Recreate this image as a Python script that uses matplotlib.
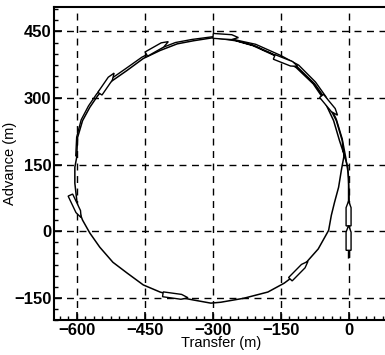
import numpy as np
import matplotlib.pyplot as plt
from matplotlib.patches import Polygon
from matplotlib.ticker import AutoMinorLocator

# turning circle tracks (transfer, advance) in metres
run1_x = [0, 0, 0, 0, 0, -2, -9, -20, -33, -56, -78, -116, -153, -211, -249,
          -298, -342, -378, -416, -453, -489, -527, -553, -571, -587, -598,
          -600, -604, -604, -598, -587, -571, -549, -520, -489, -453, -416,
          -378, -342, -304, -282, -231, -178, -142, -104, -93, -67, -44, -38,
          -31, -22, -16, -10, -14, -27, -52, -75, -112, -150, -208, -250]
run1_y = [-60, -20, 30, 80, 120, 145, 170, 204, 249, 299, 332, 369, 391, 418, 429,
          436, 429, 422, 407, 389, 362, 335, 306, 279, 249, 211,
          166, 144, 108, 54, 25, -4, -36, -70, -94, -121, -137,
          -148, -155, -162, -160, -151, -137, -117, -88, -70, -40, 2, 36,
          65, 99, 137, 170, 204, 249, 299, 332, 369, 391, 418, 430]

run2_x = [2, 2, 2, 1, -1, -6, -14, -27, -50, -73, -110, -150, -205, -250, -300,
          -345, -382, -420, -456, -492, -530, -556, -574, -590, -600, -602]
run2_y = [-58, -10, 40, 90, 130, 165, 208, 252, 303, 336, 374, 396, 421, 431, 438,
          432, 425, 410, 392, 366, 339, 309, 282, 251, 212, 170]

# ship outlines: position and heading (deg)
ship_x = [-602, -533, -422, -271, -138, -42, 0, 0, -109, -382]
ship_y = [56, 333, 413, 438, 382, 283, 40, -15, -88, -146]
ship_hdg = [-65, 56, 30, -4, -22, -51, 90, 90, 46, -8]

xticks = [-600, -450, -300, -150, 0]
yticks = [-150, 0, 150, 300, 450]

plt.rcParams['font.family'] = ['Liberation Sans', 'DejaVu Sans']

fig = plt.figure(figsize=(3.85, 3.55), dpi=100)
ax = fig.add_axes([54/385, 35/355, 334/385, 313/355])

ax.plot(run1_x, run1_y, color='black', lw=1.1)
ax.plot(run2_x, run2_y, color='black', lw=1.0)

# hull template, length 56 m, beam 11 m
hull = np.array([[-28, -5.5], [-28, 5.5], [13, 5.5], [28, 0], [13, -5.5]])
for sx, sy, h in zip(ship_x, ship_y, ship_hdg):
    a = np.radians(h)
    rot = np.array([[np.cos(a), -np.sin(a)], [np.sin(a), np.cos(a)]])
    pts = hull @ rot.T + [sx, sy]
    ax.add_patch(Polygon(pts, closed=True, facecolor='white',
                         edgecolor='black', lw=1.0, zorder=3))

ax.set_xlim(-650, 87)
ax.set_ylim(-200, 505)
ax.set_xticks(xticks)
ax.set_yticks(yticks)
ax.xaxis.set_minor_locator(AutoMinorLocator(8))
ax.yaxis.set_minor_locator(AutoMinorLocator(6))
ax.tick_params(which='both', direction='in', top=False, right=False)
ax.tick_params(which='major', length=6, width=1.2, labelsize=12, pad=2)
ax.tick_params(which='minor', length=3, width=1.0)
for lab in ax.get_xticklabels() + ax.get_yticklabels():
    lab.set_fontweight('bold')

ax.grid(True, which='major', color='black', ls=(0, (5, 4)), lw=1.0)
for s in ax.spines.values():
    s.set_linewidth(1.5)
ax.spines['right'].set_visible(False)

ax.set_xlabel('Transfer (m)', fontsize=10.5, labelpad=-1)
ax.set_ylabel('Advance (m)', fontsize=10.5, labelpad=-2)

fig.savefig('out.png', dpi=100)
